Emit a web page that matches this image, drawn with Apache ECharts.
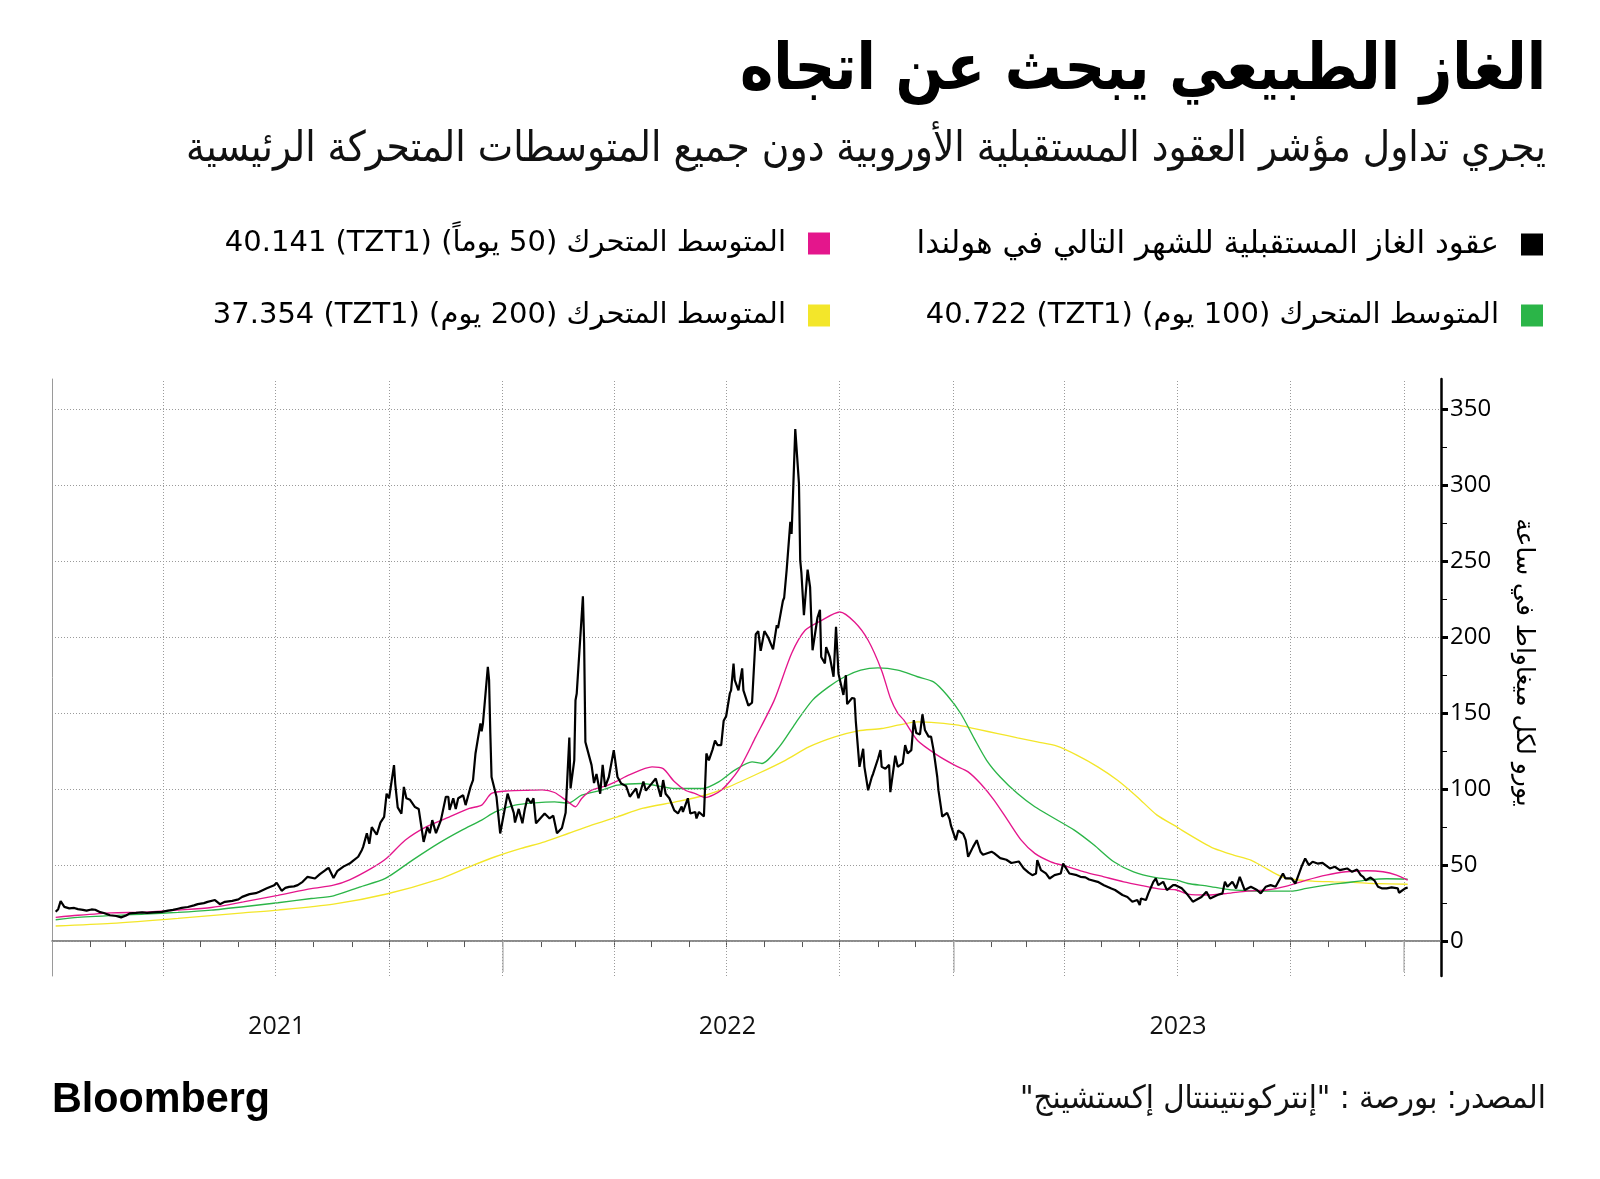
<!DOCTYPE html>
<html><head><meta charset="utf-8">
<script src="https://cdn.jsdelivr.net/npm/echarts@6/dist/echarts.min.js"></script>
<style>html,body{margin:0;padding:0;background:#fff}#c{width:1600px;height:1179px}</style>
</head><body><div id="c"></div>
<script>
// ---------------- DATA ----------------
const titleText = 'الغاز الطبيعي يبحث عن اتجاه';
const subtitleText = 'يجري تداول مؤشر العقود المستقبلية الأوروبية دون جميع المتوسطات المتحركة الرئيسية';
const sourceText = 'المصدر: بورصة : "إنتركونتيننتال إكستشينج"';
const yAxisName = 'يورو لكل ميغاواط في ساعة';
const seriesNames = [
  'عقود الغاز المستقبلية للشهر التالي في هولندا',
  'المتوسط المتحرك (50 يوماً) (TZT1) 40.141',
  'المتوسط المتحرك (100 يوم) (TZT1) 40.722',
  'المتوسط المتحرك (200 يوم) (TZT1) 37.354'
];
const yTicks = [0, 50, 100, 150, 200, 250, 300, 350];
const yMinorTicks = [25, 75, 125, 175, 225, 275, 325];
const quarterLines = ['2021-04-01','2021-07-01','2021-10-01','2022-01-01','2022-04-01','2022-07-01','2022-10-01','2023-01-01','2023-04-01','2023-07-01','2023-10-01','2024-01-01'];
const yearBounds = ['2022-01-01','2023-01-01','2024-01-01'];
const yearLabels = ['2021','2022','2023'];
const xStart = '2021-01-01';
const xEnd = '2024-01-31';

const price = [
['2021-01-04',19.3],['2021-01-06',21],['2021-01-08',26.3],['2021-01-11',22.5],['2021-01-15',21.5],['2021-01-19',21.8],['2021-01-22',21],['2021-01-26',20.5],['2021-01-29',20],
['2021-02-02',20.8],['2021-02-05',20.6],['2021-02-09',19],['2021-02-12',18.5],['2021-02-17',17],['2021-02-22',16.5],['2021-02-26',15.6],
['2021-03-02',16.8],['2021-03-05',18.2],['2021-03-10',18.5],['2021-03-15',18.9],['2021-03-19',18.5],['2021-03-24',18.9],['2021-03-31',19.2],
['2021-04-05',20],['2021-04-09',20.5],['2021-04-13',21.3],['2021-04-16',21.8],['2021-04-21',22.4],['2021-04-26',23.5],['2021-04-29',24.3],
['2021-05-04',25],['2021-05-07',25.8],['2021-05-13',27],['2021-05-17',24.3],['2021-05-21',25.8],['2021-05-27',26.5],
['2021-06-01',27.4],['2021-06-04',29.1],['2021-06-10',30.9],['2021-06-15',31.5],['2021-06-18',32.5],['2021-06-24',34.7],['2021-06-30',36.8],
['2021-07-02',38.4],['2021-07-06',33.1],['2021-07-09',35],['2021-07-12',35.7],['2021-07-16',36],['2021-07-19',36.8],['2021-07-23',39],['2021-07-27',42.3],
['2021-08-02',41.2],['2021-08-06',44.1],['2021-08-11',47.1],['2021-08-13',48.2],['2021-08-17',41.5],['2021-08-20',46],['2021-08-25',49],['2021-08-30',51],
['2021-09-02',53],['2021-09-06',55.5],['2021-09-09',60],['2021-09-10',62],['2021-09-13',71],['2021-09-15',64],['2021-09-17',75],['2021-09-21',70],['2021-09-24',78],['2021-09-27',81.8],['2021-09-29',97],
['2021-10-01',94],['2021-10-05',115.8],['2021-10-06',103.7],['2021-10-08',88],['2021-10-11',83.8],['2021-10-13',101.5],['2021-10-15',94],['2021-10-18',93],['2021-10-22',88.2],['2021-10-25',87],['2021-10-29',65.3],
['2021-11-01',75],['2021-11-03',71],['2021-11-05',79.6],['2021-11-08',71],['2021-11-12',79.6],['2021-11-16',95],['2021-11-18',95],['2021-11-19',86.4],['2021-11-22',94],['2021-11-24',87],['2021-11-26',94],['2021-11-30',96],
['2021-12-02',89.5],['2021-12-06',101.5],['2021-12-08',106],['2021-12-10',123.5],['2021-12-14',143.3],['2021-12-15',138],['2021-12-16',143],['2021-12-20',180.5],['2021-12-21',172],['2021-12-22',137],['2021-12-23',108],['2021-12-27',95],['2021-12-30',70.8],
['2022-01-05',97],['2022-01-10',84.4],['2022-01-11',78],['2022-01-14',87],['2022-01-17',77.5],['2022-01-19',87],['2022-01-21',94],['2022-01-24',90.8],['2022-01-26',94],['2022-01-28',77.5],
['2022-02-04',84],['2022-02-08',80.7],['2022-02-11',82.5],['2022-02-14',71],['2022-02-18',74.5],['2022-02-21',84.4],['2022-02-24',134],['2022-02-25',100.5],['2022-02-28',119],
['2022-03-01',158.5],['2022-03-02',163],['2022-03-03',164],['2022-03-07',227],['2022-03-08',196],['2022-03-09',131],['2022-03-10',128],['2022-03-14',115.8],['2022-03-16',104],['2022-03-18',110],['2022-03-21',97],['2022-03-23',116],['2022-03-25',101.5],['2022-03-28',108],
['2022-04-01',125.7],['2022-04-04',108],['2022-04-07',103.7],['2022-04-11',102],['2022-04-14',95],['2022-04-19',100.5],['2022-04-21',94],['2022-04-25',105],['2022-04-27',99],
['2022-05-02',104],['2022-05-05',107],['2022-05-09',95],['2022-05-11',106],['2022-05-13',97],['2022-05-16',94],['2022-05-20',86],['2022-05-23',84],['2022-05-26',88.6],['2022-05-27',85],['2022-05-31',94],
['2022-06-02',84],['2022-06-06',85],['2022-06-07',80.7],['2022-06-09',85],['2022-06-13',82],['2022-06-15',123.5],['2022-06-17',119],['2022-06-20',126],['2022-06-22',132],['2022-06-24',129],['2022-06-27',129],['2022-06-29',145],
['2022-07-01',148],['2022-07-04',163],['2022-07-05',165],['2022-07-07',182.7],['2022-07-08',171.7],['2022-07-11',165],['2022-07-14',179.5],['2022-07-15',165],['2022-07-19',155],['2022-07-22',157],['2022-07-25',202],['2022-07-27',204],['2022-07-29',191],
['2022-08-01',204],['2022-08-04',200],['2022-08-08',192],['2022-08-11',208],['2022-08-12',206],['2022-08-16',224],['2022-08-17',226],['2022-08-19',244],['2022-08-22',276],['2022-08-23',268],['2022-08-24',290],['2022-08-26',337],['2022-08-29',301],['2022-08-30',250.7],['2022-08-31',242],
['2022-09-02',214.5],['2022-09-05',244.5],['2022-09-07',233],['2022-09-08',211],['2022-09-09',191.4],['2022-09-13',213],['2022-09-15',218],['2022-09-16',187],['2022-09-19',182.8],['2022-09-20',193.5],['2022-09-23',187],['2022-09-26',174],['2022-09-28',206.8],['2022-09-30',176],
['2022-10-04',162],['2022-10-06',175],['2022-10-07',156],['2022-10-11',160],['2022-10-13',159.6],['2022-10-14',145],['2022-10-17',114.7],['2022-10-20',126.6],['2022-10-21',114.7],['2022-10-24',99.3],['2022-10-27',108],['2022-10-28',110],
['2022-11-01',120],['2022-11-03',125.7],['2022-11-04',114.7],['2022-11-07',113.5],['2022-11-10',116],['2022-11-11',98],['2022-11-15',122],['2022-11-17',114.7],['2022-11-18',115],['2022-11-21',117],['2022-11-23',129],['2022-11-25',123.5],['2022-11-28',125.7],['2022-11-30',145.4],
['2022-12-02',137],['2022-12-05',136],['2022-12-07',149.3],['2022-12-09',139],['2022-12-12',134.6],['2022-12-14',134.6],['2022-12-16',125.7],['2022-12-19',108],['2022-12-20',99],['2022-12-22',88],['2022-12-23',82],['2022-12-27',84.4],['2022-12-29',80.3],['2022-12-30',76.3],
['2023-01-03',66.4],['2023-01-05',72.8],['2023-01-09',70.6],['2023-01-11',66.4],['2023-01-13',55.5],['2023-01-17',62],['2023-01-20',66.4],['2023-01-23',58.8],['2023-01-25',56.8],
['2023-02-01',58.8],['2023-02-03',57.9],['2023-02-08',54.6],['2023-02-13',53.5],['2023-02-14',54.6],['2023-02-17',51.4],['2023-02-23',52.4],['2023-02-27',47.8],
['2023-03-03',45],['2023-03-06',43.4],['2023-03-09',44.5],['2023-03-10',53.3],['2023-03-13',46.7],['2023-03-17',44.5],['2023-03-20',41.2],['2023-03-24',43.4],['2023-03-29',44.5],['2023-03-31',51],
['2023-04-05',44.5],['2023-04-11',43.4],['2023-04-14',42.3],['2023-04-18',41.9],['2023-04-21',40.5],['2023-04-28',39],
['2023-05-03',36.8],['2023-05-09',34.6],['2023-05-12',33.6],['2023-05-18',30.3],['2023-05-22',29],['2023-05-26',25.9],['2023-05-30',27],
['2023-06-01',23.7],['2023-06-02',28],['2023-06-06',27],['2023-06-08',31.4],['2023-06-12',39],['2023-06-14',41.2],['2023-06-16',36.8],['2023-06-20',39],['2023-06-23',33.6],['2023-06-28',36.8],['2023-06-30',36.8],
['2023-07-05',34.7],['2023-07-10',30.3],['2023-07-14',25.9],['2023-07-21',29],['2023-07-25',32.5],['2023-07-28',28],
['2023-08-03',30.3],['2023-08-07',31.4],['2023-08-09',39],['2023-08-11',35.7],['2023-08-15',39],['2023-08-18',34.7],['2023-08-21',42.3],['2023-08-23',37.9],['2023-08-25',33.6],['2023-08-30',35.7],
['2023-09-04',33.6],['2023-09-07',31.4],['2023-09-11',35.7],['2023-09-15',36.8],['2023-09-19',35.7],['2023-09-25',44.5],['2023-09-27',41.2],
['2023-10-02',41.2],['2023-10-05',37.9],['2023-10-06',40],['2023-10-10',48.9],['2023-10-13',54.4],['2023-10-16',50],['2023-10-19',52.2],['2023-10-23',51],['2023-10-27',51.5],
['2023-11-02',47.8],['2023-11-06',48.9],['2023-11-10',46.7],['2023-11-16',47.8],['2023-11-20',45.6],['2023-11-24',47.1],['2023-11-27',43.4],['2023-11-29',42.3],
['2023-12-01',40],['2023-12-05',41.8],['2023-12-08',40],['2023-12-11',35.7],['2023-12-14',34.7],['2023-12-18',34.7],['2023-12-22',35.3],['2023-12-27',34.7],['2023-12-28',31.8],['2023-12-29',31.4],
['2024-01-02',34.7],['2024-01-04',35.3]
];

const ma50 = [
['2021-01-04',15.6],['2021-01-22',17],['2021-02-18',18.6],['2021-03-17',19],['2021-04-13',20.4],['2021-05-10',22.1],['2021-06-05',25.8],['2021-07-03',30.1],['2021-07-30',34.5],['2021-08-17',36.8],['2021-08-30',40.3],['2021-09-17',48],['2021-09-29',54.5],['2021-10-14',66.4],['2021-10-31',75.2],['2021-11-16',80.7],['2021-12-05',87.3],['2021-12-15',89.5],['2021-12-23',97.2],
['2022-01-06',98.9],['2022-01-22',99.3],['2022-02-02',99.5],['2022-02-12',97.8],['2022-02-23',91.6],['2022-03-01',88.4],['2022-03-06',93.9],['2022-03-14',99.3],['2022-03-25',102],['2022-04-04',105.5],['2022-04-13',109.2],['2022-05-02',114.7],['2022-05-11',113.5],['2022-05-20',105],['2022-05-29',99.3],['2022-06-06',97.1],['2022-06-14',94.5],['2022-06-27',99.3],['2022-07-11',112.5],['2022-07-25',134.4],['2022-08-09',158.6],['2022-08-23',189.3],['2022-09-03',204.6],['2022-09-16',211],['2022-10-01',216.6],['2022-10-13',210],['2022-10-24',198],['2022-11-04',178],['2022-11-11',160],['2022-11-17',150],['2022-11-22',145.4],['2022-12-03',132],['2022-12-19',122.4],
['2023-01-02',115.8],['2023-01-13',111.4],['2023-01-23',103.7],['2023-02-03',92.8],['2023-02-14',79.6],['2023-02-25',66.4],['2023-03-08',57.7],['2023-03-21',52.2],['2023-04-04',48.9],['2023-04-17',45.6],['2023-05-03',42.3],['2023-05-19',39],['2023-06-05',36.2],['2023-06-18',34.2],['2023-06-30',33.8],['2023-07-10',30.9],['2023-07-26',30.3],['2023-08-11',31.4],['2023-08-27',32.9],['2023-09-12',33.6],['2023-09-28',36.2],['2023-10-14',40.1],['2023-10-30',43.4],['2023-11-15',45.6],['2023-12-02',46.3],['2023-12-15',45.6],['2023-12-26',43.4],['2024-01-04',40.1]
];

const ma100 = [
['2021-01-04',14],['2021-01-22',15.6],['2021-03-17',17.8],['2021-04-13',18.9],['2021-05-10',20.4],['2021-06-05',22.6],['2021-07-03',25.2],['2021-07-30',28],['2021-08-17',29.8],['2021-09-07',35.5],['2021-09-28',41.2],['2021-10-20',53.3],['2021-11-10',64.3],['2021-11-29',73],['2021-12-15',79.6],['2021-12-26',85],
['2022-01-11',89.5],['2022-01-27',91],['2022-02-12',91.6],['2022-02-23',90.8],['2022-03-06',96],['2022-03-22',99.3],['2022-04-04',102.6],['2022-04-24',103.7],['2022-05-21',100.4],['2022-06-12',100.4],['2022-06-25',104.8],['2022-07-08',112.5],['2022-07-22',118],['2022-07-30',116.9],['2022-08-13',127.8],['2022-08-26',143.2],['2022-09-09',158.6],['2022-09-22',167.3],['2022-10-05',174],['2022-10-18',178.3],['2022-11-01',179.8],['2022-11-17',178.3],['2022-12-03',174],['2022-12-16',170.6],['2022-12-27',161.8],
['2023-01-07',149.8],['2023-01-18',133.3],['2023-01-28',119],['2023-02-08',108],['2023-02-22',97.1],['2023-03-08',88.4],['2023-03-24',80.7],['2023-04-09',73],['2023-04-25',63.2],['2023-05-11',52.2],['2023-05-27',45.6],['2023-06-13',41.9],['2023-07-01',40.1],['2023-07-10',37.9],['2023-07-26',36.2],['2023-08-11',34],['2023-08-27',33.1],['2023-09-12',32.9],['2023-10-03',32.9],['2023-10-14',34.7],['2023-10-30',36.8],['2023-11-15',38.4],['2023-12-02',40.1],['2023-12-18',41],['2024-01-04',40.7]
];

const ma200 = [
['2021-01-04',9.9],['2021-02-18',11.6],['2021-04-13',14.9],['2021-06-05',18.6],['2021-07-03',20.4],['2021-08-17',24.3],['2021-09-29',31],['2021-11-10',40.6],['2021-12-05',48.9],['2021-12-26',55.5],
['2022-01-16',61],['2022-02-04',65.3],['2022-02-23',70.8],['2022-03-14',76.3],['2022-04-04',81.8],['2022-04-24',87.3],['2022-05-21',91.6],['2022-06-14',96],['2022-07-03',101.5],['2022-07-27',110.3],['2022-08-18',119],['2022-09-06',127.8],['2022-09-27',134.4],['2022-10-16',138.4],['2022-11-04',139.9],['2022-11-17',142.1],['2022-12-03',144.3],['2022-12-19',143.6],
['2023-01-05',142.1],['2023-01-21',139.3],['2023-02-06',136.6],['2023-02-22',133.8],['2023-03-10',131.1],['2023-03-26',128.3],['2023-04-11',122.4],['2023-04-28',114.7],['2023-05-14',105.9],['2023-05-30',94.9],['2023-06-15',82.9],['2023-07-01',75.2],['2023-07-05',73],['2023-07-21',65.3],['2023-07-31',61],['2023-08-16',56.6],['2023-08-30',53.3],['2023-09-09',48.9],['2023-09-20',43.9],['2023-09-28',41.2],['2023-10-19',39.5],['2023-11-05',39],['2023-11-21',38.6],['2023-12-07',37.9],['2024-01-04',37.4]
];

const colors = ['#000000', '#e4168c', '#2bb548', '#f3e62a'];

// ---------------- CHART ----------------
const ts = s => { const p = s.split('-').map(Number); return new Date(p[0], p[1] - 1, p[2]).getTime(); };
const toData = arr => arr.map(p => [ts(p[0]), p[1]]);
const xMin = ts(xStart), xMax = ts(xEnd);
const monthTicks = [];
for (let y = 2021; y <= 2024; y++) for (let m = 0; m < 12; m++) {
  const t = new Date(y, m, 1).getTime();
  if (t > xMin && t <= xMax) monthTicks.push(t);
}
const yearMid = yearLabels.map(y => new Date(+y, 6, 2).getTime());
const RLE = '\u202B', PDF = '\u202C';
const AR = '"DejaVu Sans", sans-serif';

const mctx = document.createElement('canvas').getContext('2d');
function fitScale(text, font, target) { mctx.font = font; return target / mctx.measureText(text).width; }

const chart = echarts.init(document.getElementById('c'), null, {renderer: 'canvas', width: 1600, height: 1179});

function legendItem(idx, right, top, size) {
  return {
    data: [seriesNames[idx]], right: right, top: top, padding: 0,
    orient: 'horizontal', align: 'right', icon: 'rect', itemWidth: 22, itemHeight: 22,
    formatter: n => RLE + n + PDF, selectedMode: false,
    textStyle: {fontSize: size, fontFamily: AR, color: '#000', lineHeight: 22, padding: [0, 17, 0, 0]}
  };
}

const titleFont = 'bold 64px ' + AR;
const subFont = '42px ' + AR;
const srcFont = '32px ' + AR;
const bbFont = 'bold 42px "Liberation Sans", Arial, sans-serif';

const maStyle = (idx, z) => ({
  type: 'line', name: seriesNames[idx], showSymbol: false, symbol: 'none', z: z,
  smooth: 0.25,
  itemStyle: {color: colors[idx]}, lineStyle: {color: colors[idx], width: 1.35}
});

const option = {
  animation: false,
  backgroundColor: '#ffffff',
  grid: {left: 52, right: 159, top: 379, bottom: 203, containLabel: false},
  legend: [
    legendItem(0, 57, 229, 31),
    legendItem(1, 770, 229, 29),
    legendItem(2, 57, 301, 29),
    legendItem(3, 770, 301, 29)
  ],
  xAxis: [
    {type: 'value', min: xMin, max: xMax, position: 'bottom', scale: true,
     axisLine: {show: true, lineStyle: {color: '#666', width: 1.5}},
     axisTick: {show: true, customValues: monthTicks, length: 6, lineStyle: {color: '#555', width: 1}},
     axisLabel: {show: false}, splitLine: {show: false}},
    {type: 'value', min: xMin, max: xMax, position: 'bottom', offset: 32, scale: true,
     axisLine: {show: false},
     axisTick: {show: true, customValues: yearBounds.map(ts), length: 31, lineStyle: {color: '#bdbdbd', width: 1.5}},
     axisLabel: {show: true, customValues: yearMid, formatter: v => String(new Date(v).getFullYear()),
                 fontSize: 25, fontFamily: '"Open Sans", sans-serif', color: '#111', margin: 6},
     splitLine: {show: false}}
  ],
  yAxis: [
    {type: 'value', position: 'right', min: -23, max: 370,
     axisLine: {show: true, lineStyle: {color: '#000', width: 2.5}},
     axisTick: {show: true, customValues: yTicks, length: 7, lineStyle: {color: '#000', width: 3}},
     axisLabel: {show: true, customValues: yTicks, margin: 9, fontSize: 24, fontFamily: '"Open Sans", sans-serif', color: '#000'},
     splitLine: {show: false},
     name: yAxisName, nameLocation: 'middle', nameRotate: -90, nameGap: 70,
     nameTextStyle: {fontSize: 25, fontFamily: AR, color: '#000', padding: [0, 30, 0, 0]}},
    {type: 'value', position: 'right', min: -23, max: 370,
     axisLine: {show: false},
     axisTick: {show: true, customValues: yMinorTicks, length: 6, lineStyle: {color: '#000', width: 1}},
     axisLabel: {show: false}, splitLine: {show: false}},
    {type: 'value', position: 'left', min: -23, max: 370,
     axisLine: {show: true, lineStyle: {color: '#9a9a9a', width: 1}},
     axisTick: {show: false}, axisLabel: {show: false}, splitLine: {show: false}}
  ],
  series: [
    {type: 'line', name: '__grid', data: [], z: 1, silent: true,
     markLine: {silent: true, symbol: ['none', 'none'], label: {show: false},
       lineStyle: {type: [1, 2], color: '#9a9a9a', width: 1},
       emphasis: {disabled: true},
       data: quarterLines.map(q => ({xAxis: ts(q)})).concat(yTicks.map(v => ({yAxis: v})))}},
    Object.assign(maStyle(3, 2), {data: toData(ma200)}),
    Object.assign(maStyle(2, 3), {data: toData(ma100)}),
    Object.assign(maStyle(1, 4), {data: toData(ma50)}),
    {type: 'line', name: seriesNames[0], data: toData(price), showSymbol: false, symbol: 'none', z: 5,
     itemStyle: {color: colors[0]}, lineStyle: {color: colors[0], width: 2.2}}
  ],
  graphic: [
    {type: 'text', x: 1546, y: 72, scaleX: fitScale(titleText, titleFont, 806),
     style: {text: RLE + titleText + PDF, font: titleFont, fill: '#000', align: 'right', verticalAlign: 'middle'}},
    {type: 'text', x: 1546, y: 150, scaleX: fitScale(subtitleText, subFont, 1360),
     style: {text: RLE + subtitleText + PDF, font: subFont, fill: '#111', align: 'right', verticalAlign: 'middle'}},
    {type: 'text', x: 1546, y: 1100, scaleX: fitScale(sourceText, srcFont, 526),
     style: {text: RLE + sourceText + PDF, font: srcFont, fill: '#111', align: 'right', verticalAlign: 'middle'}},
    {type: 'text', x: 52, y: 1100, scaleX: fitScale('Bloomberg', bbFont, 218),
     style: {text: 'Bloomberg', font: bbFont, fill: '#000', align: 'left', verticalAlign: 'middle'}}
  ]
};
chart.setOption(option);
</script></body></html>
